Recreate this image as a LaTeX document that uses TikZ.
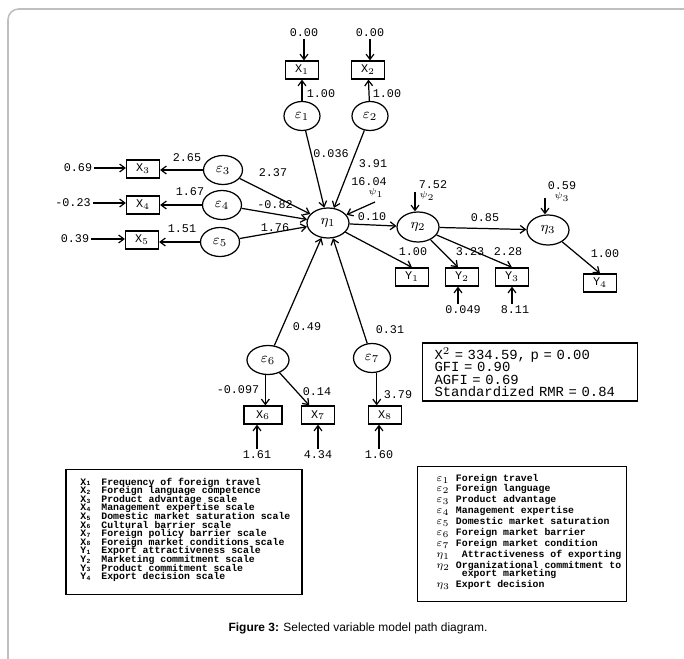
\documentclass[tikz,border=0pt]{standalone}
\usepackage{fontspec}
\setmonofont{Liberation Mono}
\setsansfont{Liberation Sans}
\usetikzlibrary{shapes.geometric,arrows.meta,positioning,calc}

\newcommand{\coeffont}{\fontsize{6.7}{8}\selectfont\ttfamily}
\newcommand{\legfont}{\ttfamily\bfseries}
\newcommand{\legsym}[2]{\smash{#1\kern0.2pt\raisebox{-0.4pt}{\fontsize{3.6}{4}\selectfont #2}}}

\tikzset{
  obsbox/.style={draw, rectangle, line width=0.7pt, minimum width=0.66cm, minimum height=0.36cm, inner sep=0pt, font=\coeffont},
  latent/.style={draw, ellipse, line width=0.7pt, minimum width=0.72cm, minimum height=0.58cm, inner sep=0pt, font=\footnotesize},
  eta/.style={latent, minimum width=0.84cm, minimum height=0.6cm},
  coef/.style={font=\coeffont, inner sep=1pt},
  dist/.style={font=\tiny, inner sep=0pt},
  link/.style={->, line width=0.7pt},
  legbox/.style={draw, rectangle, line width=0.8pt, inner sep=0pt},
}

\begin{document}
\begin{tikzpicture}[x=0.02cm, y=-0.02cm, >={Straight Barb[length=3pt,width=4.5pt]}]
    \useasboundingbox (0,0) rectangle (684,659);
    \draw[black!25, line width=0.9pt, rounded corners=6pt] (8,662) -- (8,9) -- (686,9);

    % exogenous latent variables and their indicators (top)
    \node[obsbox] (x1) at (302,70) {X$_1$};
    \node[obsbox] (x2) at (368,70) {X$_2$};
    \node[coef] (v1) at (304,33) {0.00};
    \node[coef] (v2) at (370,33) {0.00};
    \node[latent] (e1) at (302,116) {$\varepsilon_1$};
    \node[latent] (e2) at (370,116) {$\varepsilon_2$};
    \draw[link] (v1) -- (v1 |- x1.north);
    \draw[link] (v2) -- (v2 |- x2.north);
    \draw[link] (e1) -- (x1);
    \draw[link] (e2) -- (x2);
    \node[coef] (l1) at (321,94) {1.00};
    \node[coef] (l2) at (387,94) {1.00};

    % left indicators X3, X4, X5
    \node[obsbox] (x3) at (143,169) {X$_3$};
    \node[obsbox] (x4) at (143,205) {X$_4$};
    \node[obsbox] (x5) at (142,240) {X$_5$};
    \node[latent, minimum width=0.78cm] (e3) at (223,170) {$\varepsilon_3$};
    \node[latent, minimum width=0.78cm] (e4) at (222,205) {$\varepsilon_4$};
    \node[latent, minimum width=0.78cm] (e5) at (220,242) {$\varepsilon_5$};
    \node[coef] (v3) at (78,168) {0.69};
    \node[coef] (v4) at (73,203) {-0.23};
    \node[coef] (v5) at (75,239) {0.39};
    \draw[link] (v3) -- (v3 -| x3.west);
    \draw[link] (v4) -- (v4 -| x4.west);
    \draw[link] (v5) -- (v5 -| x5.west);
    \draw[link] (e3) -- (e3 -| x3.east);
    \draw[link] (e4) -- (e4 -| x4.east);
    \draw[link] (e5) -- (e5 -| x5.east);
    \node[coef] (l3) at (187,158) {2.65};
    \node[coef] (l4) at (190,192) {1.67};
    \node[coef] (l5) at (182,229) {1.51};

    % endogenous chain
    \node[eta] (eta1) at (328,223) {$\eta_1$};
    \node[eta] (eta2) at (418,227) {$\eta_2$};
    \node[eta] (eta3) at (548,230) {$\eta_3$};
    \draw[link] (e1) -- (eta1);
    \draw[link] (e2) -- (eta1);
    \draw[link] (e3) -- (eta1);
    \draw[link] (e4) -- (eta1);
    \draw[link] (e5) -- (eta1);
    \node[coef] (g1) at (331,154) {0.036};
    \node[coef] (g2) at (373,164) {3.91};
    \node[coef] (g3) at (273,173) {2.37};
    \node[coef] (g4) at (275,205) {-0.82};
    \node[coef] (g5) at (275,228) {1.76};
    \draw[link] (eta1) -- (eta2);
    \draw[link] (eta2) -- (eta3);
    \node[coef] (b1) at (372,217) {0.10};
    \node[coef] (b2) at (485,218) {0.85};

    % disturbances
    \coordinate (p1) at (375,202);
    \coordinate (p2) at (415,192);
    \coordinate (p3) at (545,198);
    \node[coef] (d1) at (369,182) {16.04};
    \node[dist] (psi1) at (376,193) {$\psi_1$};
    \node[coef] (d2) at (433,185) {7.52};
    \node[dist] (psi2) at (427,196) {$\psi_2$};
    \node[coef] (d3) at (562,186) {0.59};
    \node[dist] (psi3) at (562,197) {$\psi_3$};
    \draw[link] (p1) -- (eta1);
    \draw[link] (p2) -- (p2 |- eta2.north);
    \draw[link] (p3) -- (p3 |- eta3.north);

    % Y indicators
    \node[obsbox] (y1) at (412,277) {Y$_1$};
    \node[obsbox] (y2) at (462,277) {Y$_2$};
    \node[obsbox] (y3) at (512,277) {Y$_3$};
    \node[obsbox] (y4) at (600,283) {Y$_4$};
    \draw[link] (eta1) -- (y1.north);
    \draw[link] (eta2) -- ([xshift=-0.08cm]y2.north);
    \draw[link] (eta2) -- (y3.north);
    \draw[link] (eta3) -- (y4.north);
    \node[coef] (k1) at (413,252) {1.00};
    \node[coef] (k2) at (470,252) {3.23};
    \node[coef] (k3) at (508,252) {2.28};
    \node[coef] (k4) at (605,254) {1.00};
    \node[coef] (w2) at (463,310) {0.049};
    \node[coef] (w3) at (515,310) {8.11};
    \draw[link] ([xshift=-0.1cm]w2.north) -- ([xshift=-0.1cm]w2.north |- y2.south);
    \draw[link] ([xshift=-0.06cm]w3.north) -- ([xshift=-0.06cm]w3.north |- y3.south);

    % lower latent variables
    \node[latent, minimum width=0.84cm] (e6) at (268,360) {$\varepsilon_6$};
    \node[latent, minimum width=0.74cm] (e7) at (372,358) {$\varepsilon_7$};
    \draw[link] (e6) -- (eta1);
    \draw[link] (e7) -- (eta1);
    \node[coef] (g6) at (307,327) {0.49};
    \node[coef] (g7) at (390,330) {0.31};
    \node[obsbox, minimum width=0.76cm] (x6) at (263,415) {X$_6$};
    \node[obsbox] (x7) at (318,415) {X$_7$};
    \node[obsbox] (x8) at (385,415) {X$_8$};
    \draw[link] (e6.-100) -- (e6.-100 |- x6.north);
    \draw[link] (e6) -- (x7);
    \draw[link] (e7.-72) -- (e7.-72 |- x8.north);
    \node[coef] (l6) at (238,390) {-0.097};
    \node[coef] (l7) at (317,392) {0.14};
    \node[coef] (l8) at (398,395) {3.79};
    \node[coef] (u6) at (257,455) {1.61};
    \node[coef] (u7) at (318,455) {4.34};
    \node[coef] (u8) at (379,455) {1.60};
    \draw[link] (u6.north) -- (u6.north |- x6.south);
    \draw[link] (u7.north) -- (u7.north |- x7.south);
    \draw[link] (u8.north) -- (u8.north |- x8.south);

    % fit statistics
    \node[legbox, minimum width=4.3cm, minimum height=1.16cm, text width=3.82cm, align=left,
          font=\fontsize{7.9}{7.1}\selectfont\ttfamily] (fit) at (530,372)
        {X$^2$ = 334.59, p = 0.00\\GFI = 0.90\\AGFI = 0.69\\Standardized RMR = 0.84};

    % legend of indicators
    \node[legbox, minimum width=4.72cm, minimum height=2.5cm] (legX) at (184,532) {};
    \node[anchor=west, inner sep=0pt, font=\fontsize{5.6}{4.76}\selectfont\legfont] (legXtext) at (80,530)
        {\begin{tabular}{@{}l@{\hspace{0.22cm}}l@{}}
         \legsym{X}{1} & Frequency of foreign travel\\[-0.6pt]
         \legsym{X}{2} & Foreign language competence\\[-0.6pt]
         \legsym{X}{3} & Product advantage scale\\[-0.6pt]
         \legsym{X}{4} & Management expertise scale\\[-0.6pt]
         \legsym{X}{5} & Domestic market saturation scale\\[-0.6pt]
         \legsym{X}{6} & Cultural barrier scale\\[-0.6pt]
         \legsym{X}{7} & Foreign policy barrier scale\\[-0.6pt]
         \legsym{X}{8} & Foreign market conditions scale\\[-0.6pt]
         \legsym{Y}{1} & Export attractiveness scale\\[-0.6pt]
         \legsym{Y}{2} & Marketing commitment scale\\[-0.6pt]
         \legsym{Y}{3} & Product commitment scale\\[-0.6pt]
         \legsym{Y}{4} & Export decision scale
         \end{tabular}};

    % legend of latent variables
    \node[legbox, minimum width=4.18cm, minimum height=2.7cm] (legE) at (522,534) {};
    \node[anchor=west, inner sep=0pt, font=\fontsize{5.6}{6.2}\selectfont\legfont] (legEtext) at (436,532)
        {\begin{tabular}{@{}l@{\hspace{0.12cm}}l@{}}
         \smash{$\varepsilon_1$} & Foreign travel\\
         \smash{$\varepsilon_2$} & Foreign language\\
         \smash{$\varepsilon_3$} & Product advantage\\
         \smash{$\varepsilon_4$} & Management expertise\\
         \smash{$\varepsilon_5$} & Domestic market saturation\\
         \smash{$\varepsilon_6$} & Foreign market barrier\\
         \smash{$\varepsilon_7$} & Foreign market condition\\
         \smash{$\eta_1$} & \ Attractiveness of exporting\\
         \smash{$\eta_2$} & Organizational commitment to\\[-1.5pt]
                  & \ export marketing\\
         \smash{$\eta_3$} & Export decision
         \end{tabular}};

    % caption
    \node[font=\sffamily\fontsize{6.8}{8}\selectfont] (cap) at (358,628)
        {\textbf{Figure 3:} Selected variable model path diagram.};
\end{tikzpicture}
\end{document}
